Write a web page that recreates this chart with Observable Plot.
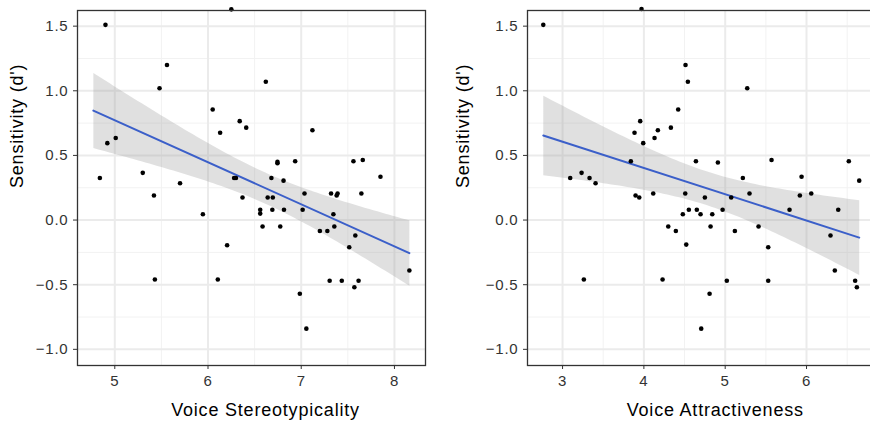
<!DOCTYPE html>
<html>
<head>
<meta charset="utf-8">
<script src="https://cdn.jsdelivr.net/npm/d3@7"></script>
<script src="https://cdn.jsdelivr.net/npm/@observablehq/plot@0.6"></script>
<style>
  body { margin: 0; background: #fff; }
  #wrap { width: 870px; height: 422px; overflow: hidden; display: flex; background: #fff; }
  #wrap svg { flex-shrink: 0; }
</style>
</head>
<body>
<div id="wrap"></div>
<script>
// Left panel: Voice Stereotypicality vs Sensitivity (d')
// (last point sits just above the visible top of the panel; inferred from the fit band extent)
const stereoX = [4.90,6.25,5.56,5.48,6.62,6.05,6.13,6.34,6.41,7.12,4.92,5.01,4.84,5.30,5.42,5.70,6.28,6.30,6.37,6.68,6.745,6.745,6.81,6.935,6.64,6.695,7.035,7.32,7.38,7.39,7.56,7.66,7.645,7.85,6.56,6.56,6.69,6.815,6.585,6.775,7.015,7.345,7.20,7.28,7.355,7.58,7.515,8.16,6.985,7.055,7.305,7.435,7.615,7.57,5.945,6.205,5.43,6.105,4.77];
const stereoY = [1.51,1.63,1.20,1.02,1.07,0.855,0.675,0.765,0.715,0.695,0.595,0.635,0.325,0.365,0.19,0.285,0.325,0.325,0.175,0.325,0.45,0.44,0.305,0.455,0.175,0.175,0.205,0.205,0.19,0.205,0.455,0.465,0.205,0.335,0.08,0.05,0.08,0.08,-0.05,-0.05,0.08,0.045,-0.085,-0.085,-0.05,-0.12,-0.21,-0.39,-0.57,-0.84,-0.47,-0.47,-0.47,-0.52,0.045,-0.195,-0.46,-0.46,1.77];

// Right panel: Voice Attractiveness vs Sensitivity (d')
const attractX = [2.763,3.971,4.512,4.541,4.422,3.955,3.885,3.992,4.131,4.172,4.332,3.84,4.64,3.094,3.234,3.332,3.406,5.271,4.115,3.898,3.943,4.509,4.553,4.651,4.75,4.91,4.968,5.074,5.217,5.299,5.57,5.791,5.939,5.918,6.058,6.39,6.52,6.648,4.479,4.697,4.30,4.393,4.521,3.262,4.23,4.705,4.841,4.82,5.119,5.41,5.529,5.02,5.529,4.808,6.295,6.348,6.598,6.619,4.13];
const attractY = [1.51,1.633,1.20,1.07,0.855,0.765,0.675,0.595,0.635,0.695,0.715,0.455,0.455,0.325,0.365,0.325,0.285,1.02,0.205,0.19,0.175,0.205,0.08,0.08,0.175,0.445,0.08,0.175,0.325,0.205,0.465,0.08,0.335,0.19,0.205,0.08,0.455,0.305,0.045,0.045,-0.05,-0.085,-0.19,-0.46,-0.46,-0.84,0.045,-0.05,-0.085,-0.05,-0.21,-0.47,-0.47,-0.57,-0.12,-0.39,-0.47,-0.52,1.77];

const yTicks = [-1.0, -0.5, 0.0, 0.5, 1.0, 1.5];
const yMinor = [-0.75, -0.25, 0.25, 0.75, 1.25];
const stereoTicks = [5, 6, 7, 8];
const stereoMinor = [5.5, 6.5, 7.5];
const attractTicks = [3, 4, 5, 6];
const attractMinor = [3.5, 4.5, 5.5, 6.5];
const yLabel = "Sensitivity (d')";
const stereoLabel = "Voice Stereotypicality";
const attractLabel = "Voice Attractiveness";

const fmt = d3.format(".1f");
const FONT = "'Liberation Sans', Arial, Helvetica, sans-serif";

function panel({xs, ys, xDomain, xTicks, xMinor, xLabel, width, marginLeft, marginRight, titleDx, yTitleDx}) {
  const data = xs.map((x, i) => ({x, y: ys[i]}));
  return Plot.plot({
    width, height: 422,
    marginLeft, marginRight, marginTop: 10, marginBottom: 57,
    style: {fontFamily: FONT, fontSize: "15px", letterSpacing: "0.8px", background: "#fff", overflow: "hidden"},
    x: {domain: xDomain},
    y: {domain: [-1.125, 1.621]},
    marks: [
      Plot.ruleX(xMinor, {stroke: "#f2f2f2", strokeWidth: 1}),
      Plot.ruleY(yMinor, {stroke: "#f2f2f2", strokeWidth: 1}),
      Plot.ruleX(xTicks, {stroke: "#ebebeb", strokeWidth: 2}),
      Plot.ruleY(yTicks, {stroke: "#ebebeb", strokeWidth: 2}),
      Plot.linearRegressionY(data, {x: "x", y: "y", ci: 0.95, stroke: "#3b5fc9", strokeWidth: 2, fill: "#999999", fillOpacity: 0.3}),
      Plot.dot(data, {x: "x", y: "y", r: 2.3, fill: "#000", stroke: "none"}),
      Plot.frame({stroke: "#333", strokeWidth: 1.3}),
      Plot.axisX({ticks: xTicks, tickSize: 4, tickPadding: 6, fontSize: 15, color: "#333", label: null, tickFormat: d => String(d)}),
      Plot.axisY({ticks: yTicks, tickSize: 4, tickPadding: 5, fontSize: 15, color: "#333", label: null, tickFormat: fmt}),
      Plot.text([xLabel], {frameAnchor: "bottom", dy: 45, dx: titleDx, fontSize: 18, fill: "#000", lineAnchor: "middle"}),
      Plot.text([yLabel], {frameAnchor: "left", dx: yTitleDx, rotate: -90, fontSize: 18, fill: "#000", lineAnchor: "middle"})
    ]
  });
}

const wrap = document.getElementById("wrap");
wrap.appendChild(panel({
  xs: stereoX, ys: stereoY, xDomain: [4.6, 8.333], xTicks: stereoTicks, xMinor: stereoMinor,
  xLabel: stereoLabel, width: 435, marginLeft: 77, marginRight: 10, titleDx: 14, yTitleDx: -60
}));
wrap.appendChild(panel({
  xs: attractX, ys: attractY, xDomain: [2.569, 6.842], xTicks: attractTicks, xMinor: attractMinor,
  xLabel: attractLabel, width: 450, marginLeft: 92, marginRight: 10.5, titleDx: 14, yTitleDx: -64.5
}));
</script>
</body>
</html>
